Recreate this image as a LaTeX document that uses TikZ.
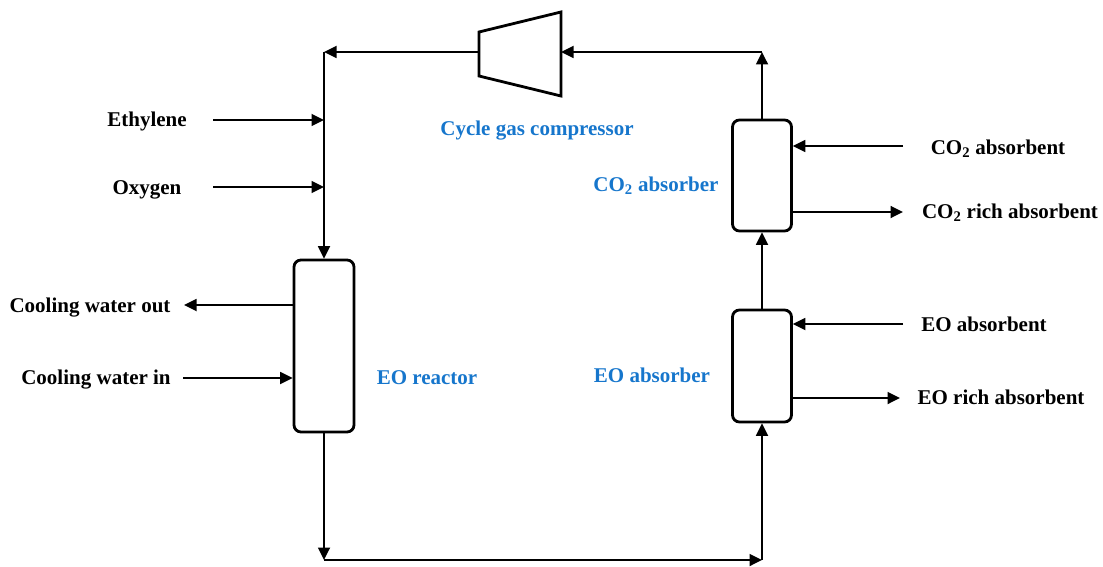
\documentclass[tikz,border=0pt]{standalone}
\usepackage{fontspec}
\setmainfont{Liberation Serif}
\usetikzlibrary{arrows.meta}
\definecolor{lblblue}{RGB}{22,118,204}
\begin{document}
\begin{tikzpicture}[x=1pt,y=-1pt,
  lbl/.style={font=\fontsize{21}{23}\selectfont\bfseries, text height=0.66em, text depth=0pt, inner sep=0pt, yshift=-4pt},
  bluelbl/.style={lbl, text=lblblue},
  vessel/.style={draw, line width=2.8pt, rounded corners=7pt, inner sep=0pt},
  flow/.style={line width=1.8pt, -{Triangle[length=12.5pt,width=12pt]}},
  plain/.style={line width=1.8pt}]
\useasboundingbox (0,0) rectangle (1103,567);
% vessels
\node[vessel, minimum width=60pt, minimum height=172pt] (reac) at (324,346) {};
\node[vessel, minimum width=59pt, minimum height=111pt] (co2abs) at (762,175.5) {};
\node[vessel, minimum width=59pt, minimum height=112pt] (eoabs) at (762,366) {};
% compressor
\draw[line width=2.8pt, line join=miter] (479,32) -- (561,12) -- (561,96) -- (479,76) -- cycle;
\coordinate (compin) at (561,52);
\coordinate (compout) at (479,52);
\coordinate (ctr) at (762,52);
\coordinate (ctl) at (324,52);
\coordinate (cbl) at (324,560);
\coordinate (cbr) at (762,560);
% labels
\node[lbl] (eth) at (147,119) {Ethylene};
\node[lbl] (oxy) at (147,187) {Oxygen};
\node[lbl] (cwout) at (90,305) {Cooling water out};
\node[lbl] (cwin) at (96,377) {Cooling water in};
\node[bluelbl] (reaclbl) at (427,377) {EO reactor};
\node[bluelbl] (complbl) at (537,128) {Cycle gas compressor};
\node[bluelbl] (co2lbl) at (656,184) {CO\textsubscript{2} absorber};
\node[bluelbl] (eolbl) at (652,375) {EO absorber};
\node[lbl] (co2in) at (998,147) {CO\textsubscript{2} absorbent};
\node[lbl] (co2out) at (1010,211) {CO\textsubscript{2} rich absorbent};
\node[lbl] (eoin) at (984,324) {EO absorbent};
\node[lbl] (eoout) at (1001,397) {EO rich absorbent};
% connectors
\draw[flow] (co2abs.north) -- (ctr);
\draw[flow] (ctr) -- (compin);
\draw[flow] (compout) -- (ctl);
\draw[flow] (ctl) -- (reac.north);
\draw[flow] (213,120) -- (324,120);
\draw[flow] (213,187) -- (324,187);
\draw[flow] (reac.west |- 0,305) -- (184,305);
\draw[flow] (183,378) -- (reac.west |- 0,378);
\draw[flow] (reac.south) -- (cbl);
\draw[flow] (cbl) -- (cbr);
\draw[flow] (cbr) -- (eoabs.south);
\draw[flow] (eoabs.north) -- (co2abs.south);
\draw[flow] (903,146) -- (co2abs.east |- 0,146);
\draw[flow] (co2abs.east |- 0,212) -- (903,212);
\draw[flow] (903,324) -- (eoabs.east |- 0,324);
\draw[flow] (eoabs.east |- 0,398) -- (900,398);
\end{tikzpicture}
\end{document}
